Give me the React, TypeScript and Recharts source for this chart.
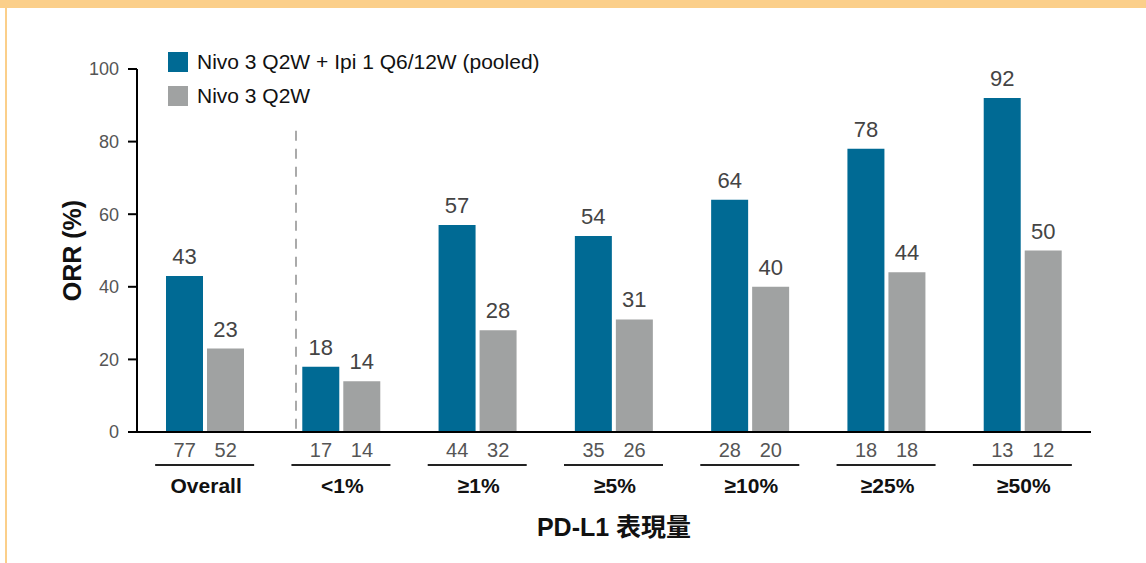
import {
  BarChart,
  Bar,
  XAxis,
  YAxis,
  Legend,
  LabelList,
  ReferenceLine,
} from "recharts";

const categories = ["Overall", "<1%", "≥1%", "≥5%", "≥10%", "≥25%", "≥50%"];
const comboOrr = [43, 18, 57, 54, 64, 78, 92];
const nivoOrr = [23, 14, 28, 31, 40, 44, 50];
const comboN = [77, 17, 44, 35, 28, 18, 13];
const nivoN = [52, 14, 32, 26, 20, 18, 12];
const yTicks = [0, 20, 40, 60, 80, 100];
const seriesOrder = ["combo", "nivo"];

const COMBO_NAME = "Nivo 3 Q2W + Ipi 1 Q6/12W (pooled)";
const NIVO_NAME = "Nivo 3 Q2W";
const BLUE = "#006a94";
const GRAY = "#a0a2a2";
const FONT = "'Liberation Sans', Arial, 'Noto Sans CJK TC', sans-serif";
const BAR = 37;
const GAP = 4;

const data = categories.map((c, i) => ({
  name: c,
  combo: comboOrr[i],
  nivo: nivoOrr[i],
}));

function GroupTick(props: any) {
  const { x, y, payload } = props;
  const i = payload.index;
  const d = BAR / 2 + GAP / 2;
  return (
    <g>
      <text x={x - d} y={y + 17} textAnchor="middle" fontSize={20} fill="#555">
        {comboN[i]}
      </text>
      <text x={x + d} y={y + 17} textAnchor="middle" fontSize={20} fill="#555">
        {nivoN[i]}
      </text>
      <line x1={x - 50} x2={x + 49} y1={y + 25} y2={y + 25} stroke="#222" strokeWidth={2} />
      <text x={x + 1} y={y + 53} textAnchor="middle" fontSize={21} fontWeight="bold" fill="#111">
        {payload.value}
      </text>
    </g>
  );
}

function LegendBox(props: any) {
  const items = [...(props.payload || [])].sort(
    (a: any, b: any) => seriesOrder.indexOf(a.dataKey) - seriesOrder.indexOf(b.dataKey)
  );
  return (
    <div style={{ fontFamily: FONT }}>
      {items.map((it: any) => (
        <div
          key={it.value}
          style={{ display: "flex", alignItems: "center", height: 20, marginBottom: 14 }}
        >
          <div style={{ width: 20, height: 20, background: it.color }} />
          <span style={{ marginLeft: 9, fontSize: 21, color: "#111", whiteSpace: "nowrap" }}>
            {it.value}
          </span>
        </div>
      ))}
    </div>
  );
}

export default function App() {
  return (
    <div
      style={{
        position: "absolute",
        left: 0,
        top: 0,
        width: 1146,
        height: 563,
        background: "#fff",
        overflow: "hidden",
        fontFamily: FONT,
      }}
    >
      <div style={{ position: "absolute", left: 0, top: 0, width: 1146, height: 8, background: "#fbcf8a" }} />
      <div style={{ position: "absolute", left: 5, top: 8, width: 2, height: 555, background: "#fbcf8a" }} />
      <BarChart
        width={1146}
        height={563}
        data={data}
        margin={{ top: 69, right: 55, bottom: 0, left: 50 }}
        barSize={BAR}
        barGap={GAP}
        style={{ fontFamily: FONT }}
      >
        <XAxis
          dataKey="name"
          height={131}
          tickLine={false}
          axisLine={{ stroke: "#000", strokeWidth: 2 }}
          tick={<GroupTick />}
          interval={0}
          label={{
            content: (p: any) => {
              const vb = p.viewBox;
              return (
                <text
                  x={vb.x + vb.width / 2}
                  y={vb.y + 104}
                  textAnchor="middle"
                  fontSize={25}
                  fontWeight="bold"
                  fill="#111"
                  fontFamily={FONT}
                >
                  PD-L1 表現量
                </text>
              );
            },
          }}
        />
        <XAxis xAxisId="n" type="number" domain={[0, categories.length]} hide />
        <YAxis
          width={87}
          domain={[0, 100]}
          ticks={yTicks}
          tickSize={9}
          tickMargin={9}
          tick={{ fontSize: 18, fill: "#555" }}
          tickLine={{ stroke: "#000", strokeWidth: 2 }}
          axisLine={{ stroke: "#000", strokeWidth: 2 }}
          label={{
            content: (p: any) => {
              const vb = p.viewBox;
              const cx = vb.x + 22;
              const cy = vb.y + vb.height / 2;
              return (
                <text
                  x={cx}
                  y={cy}
                  transform={`rotate(-90 ${cx} ${cy})`}
                  textAnchor="middle"
                  dominantBaseline="central"
                  fontSize={25}
                  fontWeight="bold"
                  fill="#111"
                  fontFamily={FONT}
                >
                  ORR (%)
                </text>
              );
            },
          }}
        />
        <ReferenceLine
          xAxisId="n"
          segment={[
            { x: 1, y: 83 },
            { x: 1, y: 0 },
          ]}
          stroke="#aaa"
          strokeWidth={2}
          strokeDasharray="10 8"
        />
        <Legend
          layout="horizontal"
          verticalAlign="middle"
          align="center"
          content={<LegendBox />}
          wrapperStyle={{ position: "absolute", left: 168, top: 52, width: 520, height: 60 }}
        />
        <Bar dataKey="combo" name={COMBO_NAME} fill={BLUE} isAnimationActive={false}>
          <LabelList dataKey="combo" position="top" offset={12} fontSize={22} fill="#444" />
        </Bar>
        <Bar dataKey="nivo" name={NIVO_NAME} fill={GRAY} isAnimationActive={false}>
          <LabelList dataKey="nivo" position="top" offset={12} fontSize={22} fill="#444" />
        </Bar>
      </BarChart>
    </div>
  );
}
